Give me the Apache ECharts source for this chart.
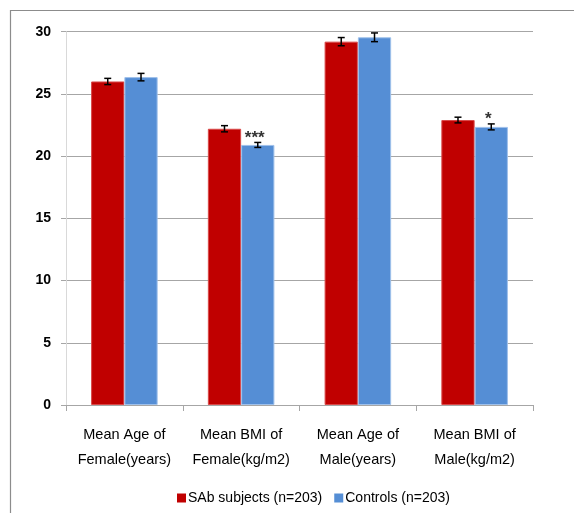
<!DOCTYPE html>
<html><head><meta charset="utf-8">
<script src="https://cdn.jsdelivr.net/npm/echarts@6/dist/echarts.min.js"></script>
<style>html,body{margin:0;padding:0;background:#fff}#c{width:574px;height:513px}</style>
</head><body><div id="c"></div>
<script>
const categories = ['Mean Age of\nFemale(years)', 'Mean BMI of\nFemale(kg/m2)', 'Mean Age of\nMale(years)', 'Mean BMI of\nMale(kg/m2)'];
const seriesNames = ['SAb subjects (n=203)', 'Controls (n=203)'];
const sabValues = [26.0, 22.2, 29.2, 22.9];
const sabErrors = [0.25, 0.25, 0.33, 0.23];
const ctrlValues = [26.35, 20.9, 29.55, 22.35];
const ctrlErrors = [0.3, 0.2, 0.35, 0.24];
const ctrlSig = ['', '***', '', '*'];
const yTicks = [0, 5, 10, 15, 20, 25, 30];

const font = "'Liberation Sans', 'Open Sans', sans-serif";
const catGap = 0.43;

function errSeries(vals, errs, sig, side) {
  return {
    type: 'custom',
    z: 5,
    data: vals.map((v, i) => [i, v, errs[i]]),
    renderItem: function (params, api) {
      const i = api.value(0), v = api.value(1), e = api.value(2);
      const band = api.size([1, 0])[0];
      const barW = band * (1 - catGap) / 2;
      const c = api.coord([i, v]);
      const x = c[0] + side * barW / 2;
      const yHi = api.coord([i, v + e])[1];
      const yLo = api.coord([i, v - e])[1];
      const cap = 3.5;
      const st = { stroke: '#000', lineWidth: 1.5 };
      const ch = [
        { type: 'line', shape: { x1: x, y1: yHi, x2: x, y2: yLo }, style: st },
        { type: 'line', shape: { x1: x - cap, y1: yHi, x2: x + cap, y2: yHi }, style: st },
        { type: 'line', shape: { x1: x - cap, y1: yLo, x2: x + cap, y2: yLo }, style: st }
      ];
      const s = sig ? sig[i] : '';
      if (s) {
        ch.push({ type: 'text', style: { text: s, x: x - 3, y: yHi + 4, align: 'center', verticalAlign: 'bottom', font: 'bold 17px ' + font, fill: '#333' } });
      }
      return { type: 'group', children: ch };
    }
  };
}

const chart = echarts.init(document.getElementById('c'), null, { renderer: 'canvas' });
chart.setOption({
  animation: false,
  backgroundColor: '#fff',
  graphic: [{ type: 'rect', shape: { x: 10.5, y: 10.5, width: 700, height: 700 }, style: { fill: 'none', stroke: '#8c8c8c', lineWidth: 1.2 }, silent: true }],
  grid: { left: 66, right: 41, top: 31.7, bottom: 108, containLabel: false },
  legend: {
    bottom: 3, left: 172,
    itemWidth: 9, itemHeight: 9, itemGap: 12,
    icon: 'rect',
    itemStyle: { borderWidth: 0 },
    textStyle: { fontFamily: font, fontSize: 14, color: '#000', padding: [0, 0, 0, -3] },
    data: seriesNames
  },
  xAxis: {
    type: 'category', data: categories,
    axisLine: { lineStyle: { color: '#a6a6a6', width: 1 } },
    axisTick: { show: true, length: 6, lineStyle: { color: '#a6a6a6' } },
    axisLabel: { fontFamily: font, fontSize: 14.5, color: '#000', lineHeight: 25, margin: 17, interval: 0 }
  },
  yAxis: {
    type: 'value', min: 0, max: 30, interval: 5,
    axisLine: { show: true, lineStyle: { color: '#d9d9d9', width: 1 } },
    axisTick: { show: true, length: 5, lineStyle: { color: '#a6a6a6' } },
    axisLabel: { fontFamily: font, fontSize: 14, fontWeight: 'bold', color: '#000', margin: 15,
      formatter: v => yTicks.includes(v) ? String(v) : '' },
    splitLine: { lineStyle: { color: '#a6a6a6', width: 1 } }
  },
  series: [
    { name: seriesNames[0], type: 'bar', data: sabValues, barGap: '0%', barCategoryGap: (catGap * 100) + '%',
      itemStyle: { color: '#c00000', borderColor: '#d94848', borderWidth: 1 } },
    { name: seriesNames[1], type: 'bar', data: ctrlValues,
      itemStyle: { color: '#558ed5', borderColor: '#9fc0ea', borderWidth: 1 } },
    errSeries(sabValues, sabErrors, null, -1),
    errSeries(ctrlValues, ctrlErrors, ctrlSig, 1)
  ]
});
</script></body></html>
